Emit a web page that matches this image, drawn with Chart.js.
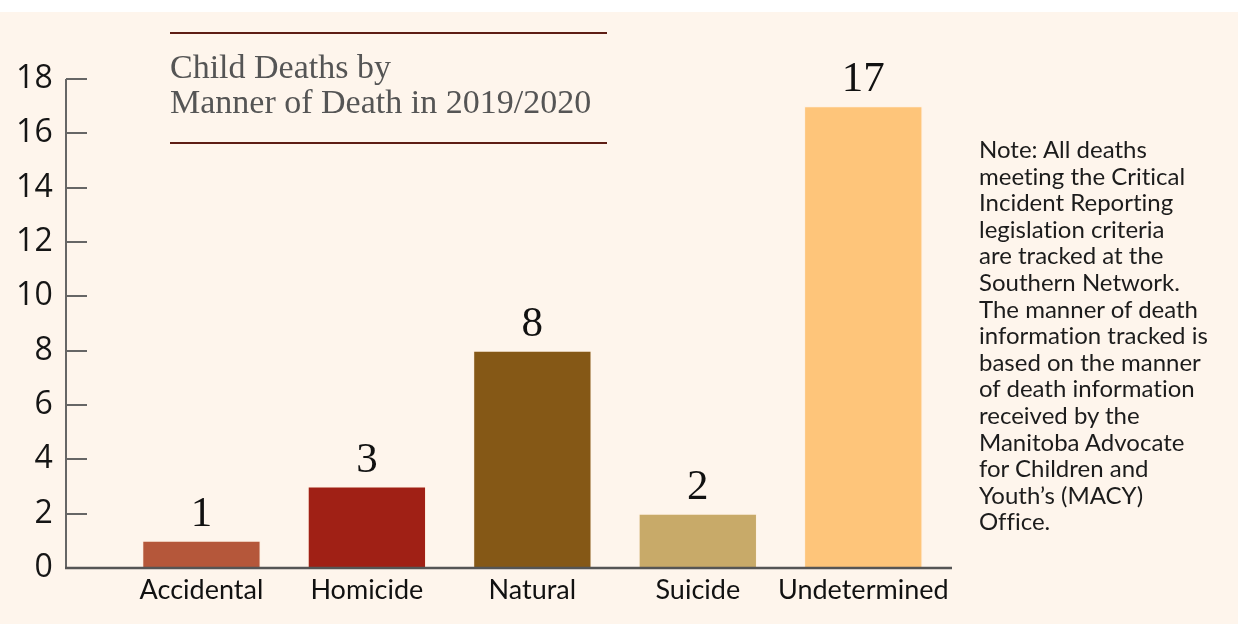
<!DOCTYPE html>
<html>
<head>
<meta charset="utf-8">
<script src="https://cdn.jsdelivr.net/npm/chart.js@4"></script>
<style>
  html, body { margin:0; padding:0; }
  body { width:1238px; height:624px; background:#fef5ec; position:relative; overflow:hidden; }
  #strip { position:absolute; left:0; top:0; width:1238px; height:12px; background:#fff; }
  #wrap { position:absolute; left:0; top:0; width:1238px; height:624px; }
  #title { position:absolute; left:170px; top:32px; width:437px; border-top:2px solid #5e1d14; border-bottom:2px solid #5e1d14;
    font-family:"Liberation Serif", serif; font-size:34px; line-height:35px; color:#555; padding:15px 0 23px 0; }
  #note { position:absolute; left:979px; top:136px; font-family:Lato, sans-serif; font-size:24px; line-height:26.6px; color:#1c1c1c;
    white-space:nowrap; font-variant-ligatures:none; }
</style>
</head>
<body>
<div id="strip"></div>
<div id="wrap"><canvas id="chart" width="1238" height="624"></canvas></div>
<div id="title">Child Deaths by<br>Manner of Death in 2019/2020</div>
<div id="note">Note: All deaths<br>meeting the Critical<br>Incident Reporting<br>legislation criteria<br>are tracked at the<br>Southern Network.<br>The manner of death<br>information tracked is<br>based on the manner<br>of death information<br>received by the<br>Manitoba Advocate<br>for Children and<br>Youth’s (MACY)<br>Office.</div>
<script>
const categories = ["Accidental", "Homicide", "Natural", "Suicide", "Undetermined"];
const deaths = [1, 3, 8, 2, 17];
const barColors = ["#b5573a", "#a02015", "#855816", "#c8aa69", "#fec57a"];
const yTicks = [0, 2, 4, 6, 8, 10, 12, 14, 16, 18];

// axis drawn by hand: line sits left of the first category slot
const AXIS_X = 66;
const AXIS_END = 952;

const axisPlugin = {
  id: "axisLines",
  afterDatasetsDraw(chart){
    const ctx = chart.ctx, y = chart.scales.y;
    const top = y.getPixelForValue(18), bottom = y.getPixelForValue(0);
    ctx.save();
    ctx.strokeStyle = "#666";
    ctx.lineWidth = 2;
    ctx.beginPath();
    ctx.moveTo(AXIS_X, top); ctx.lineTo(AXIS_X, bottom);
    yTicks.forEach(v=>{
      if(v === 0) return;
      const py = Math.round(y.getPixelForValue(v));
      ctx.moveTo(AXIS_X, py); ctx.lineTo(AXIS_X + 21, py);
    });
    ctx.stroke();
    ctx.beginPath();
    ctx.strokeStyle = "#555";
    ctx.lineWidth = 2.5;
    ctx.moveTo(AXIS_X - 1, bottom); ctx.lineTo(AXIS_END, bottom);
    ctx.stroke();

    // value labels
    const meta = chart.getDatasetMeta(0);
    ctx.fillStyle = "#111";
    ctx.font = '43px "Liberation Serif", serif';
    ctx.textAlign = "center";
    ctx.textBaseline = "alphabetic";
    meta.data.forEach((bar, i)=>{
      ctx.fillText(String(deaths[i]), bar.x, bar.y - 15);
    });
    ctx.restore();
  }
};

new Chart(document.getElementById("chart"), {
  type: "bar",
  data: {
    labels: categories,
    datasets: [{
      data: deaths,
      backgroundColor: barColors,
      borderColor: "rgba(255,240,220,0.5)",
      borderWidth: 1,
      borderSkipped: "bottom",
      categoryPercentage: 1,
      barPercentage: 0.715
    }]
  },
  options: {
    responsive: false,
    animation: false,
    events: [],
    layout: { padding: { top: 79, right: 292, left: 0, bottom: 0 } },
    plugins: { legend: { display: false }, tooltip: { enabled: false } },
    scales: {
      x: {
        grid: { display: false, drawTicks: false },
        border: { display: false },
        ticks: { color: "#111", font: { family: "Lato", size: 27 }, padding: 6, maxRotation: 0, autoSkip: false },
        afterFit(s){ s.height = 56; }
      },
      y: {
        min: 0, max: 18,
        afterBuildTicks(s){ s.ticks = yTicks.map(v=>({ value: v })); },
        // invisible tick marks only push the labels out to the left
        grid: { display: true, drawOnChartArea: false, drawTicks: true, tickLength: 60, tickColor: "rgba(0,0,0,0)" },
        border: { display: false },
        ticks: { color: "#151515", font: { family: "Open Sans", size: 32 }, padding: 6 },
        afterFit(s){ s.width = 118.7; }
      }
    }
  },
  plugins: [axisPlugin]
});
</script>
</body>
</html>
